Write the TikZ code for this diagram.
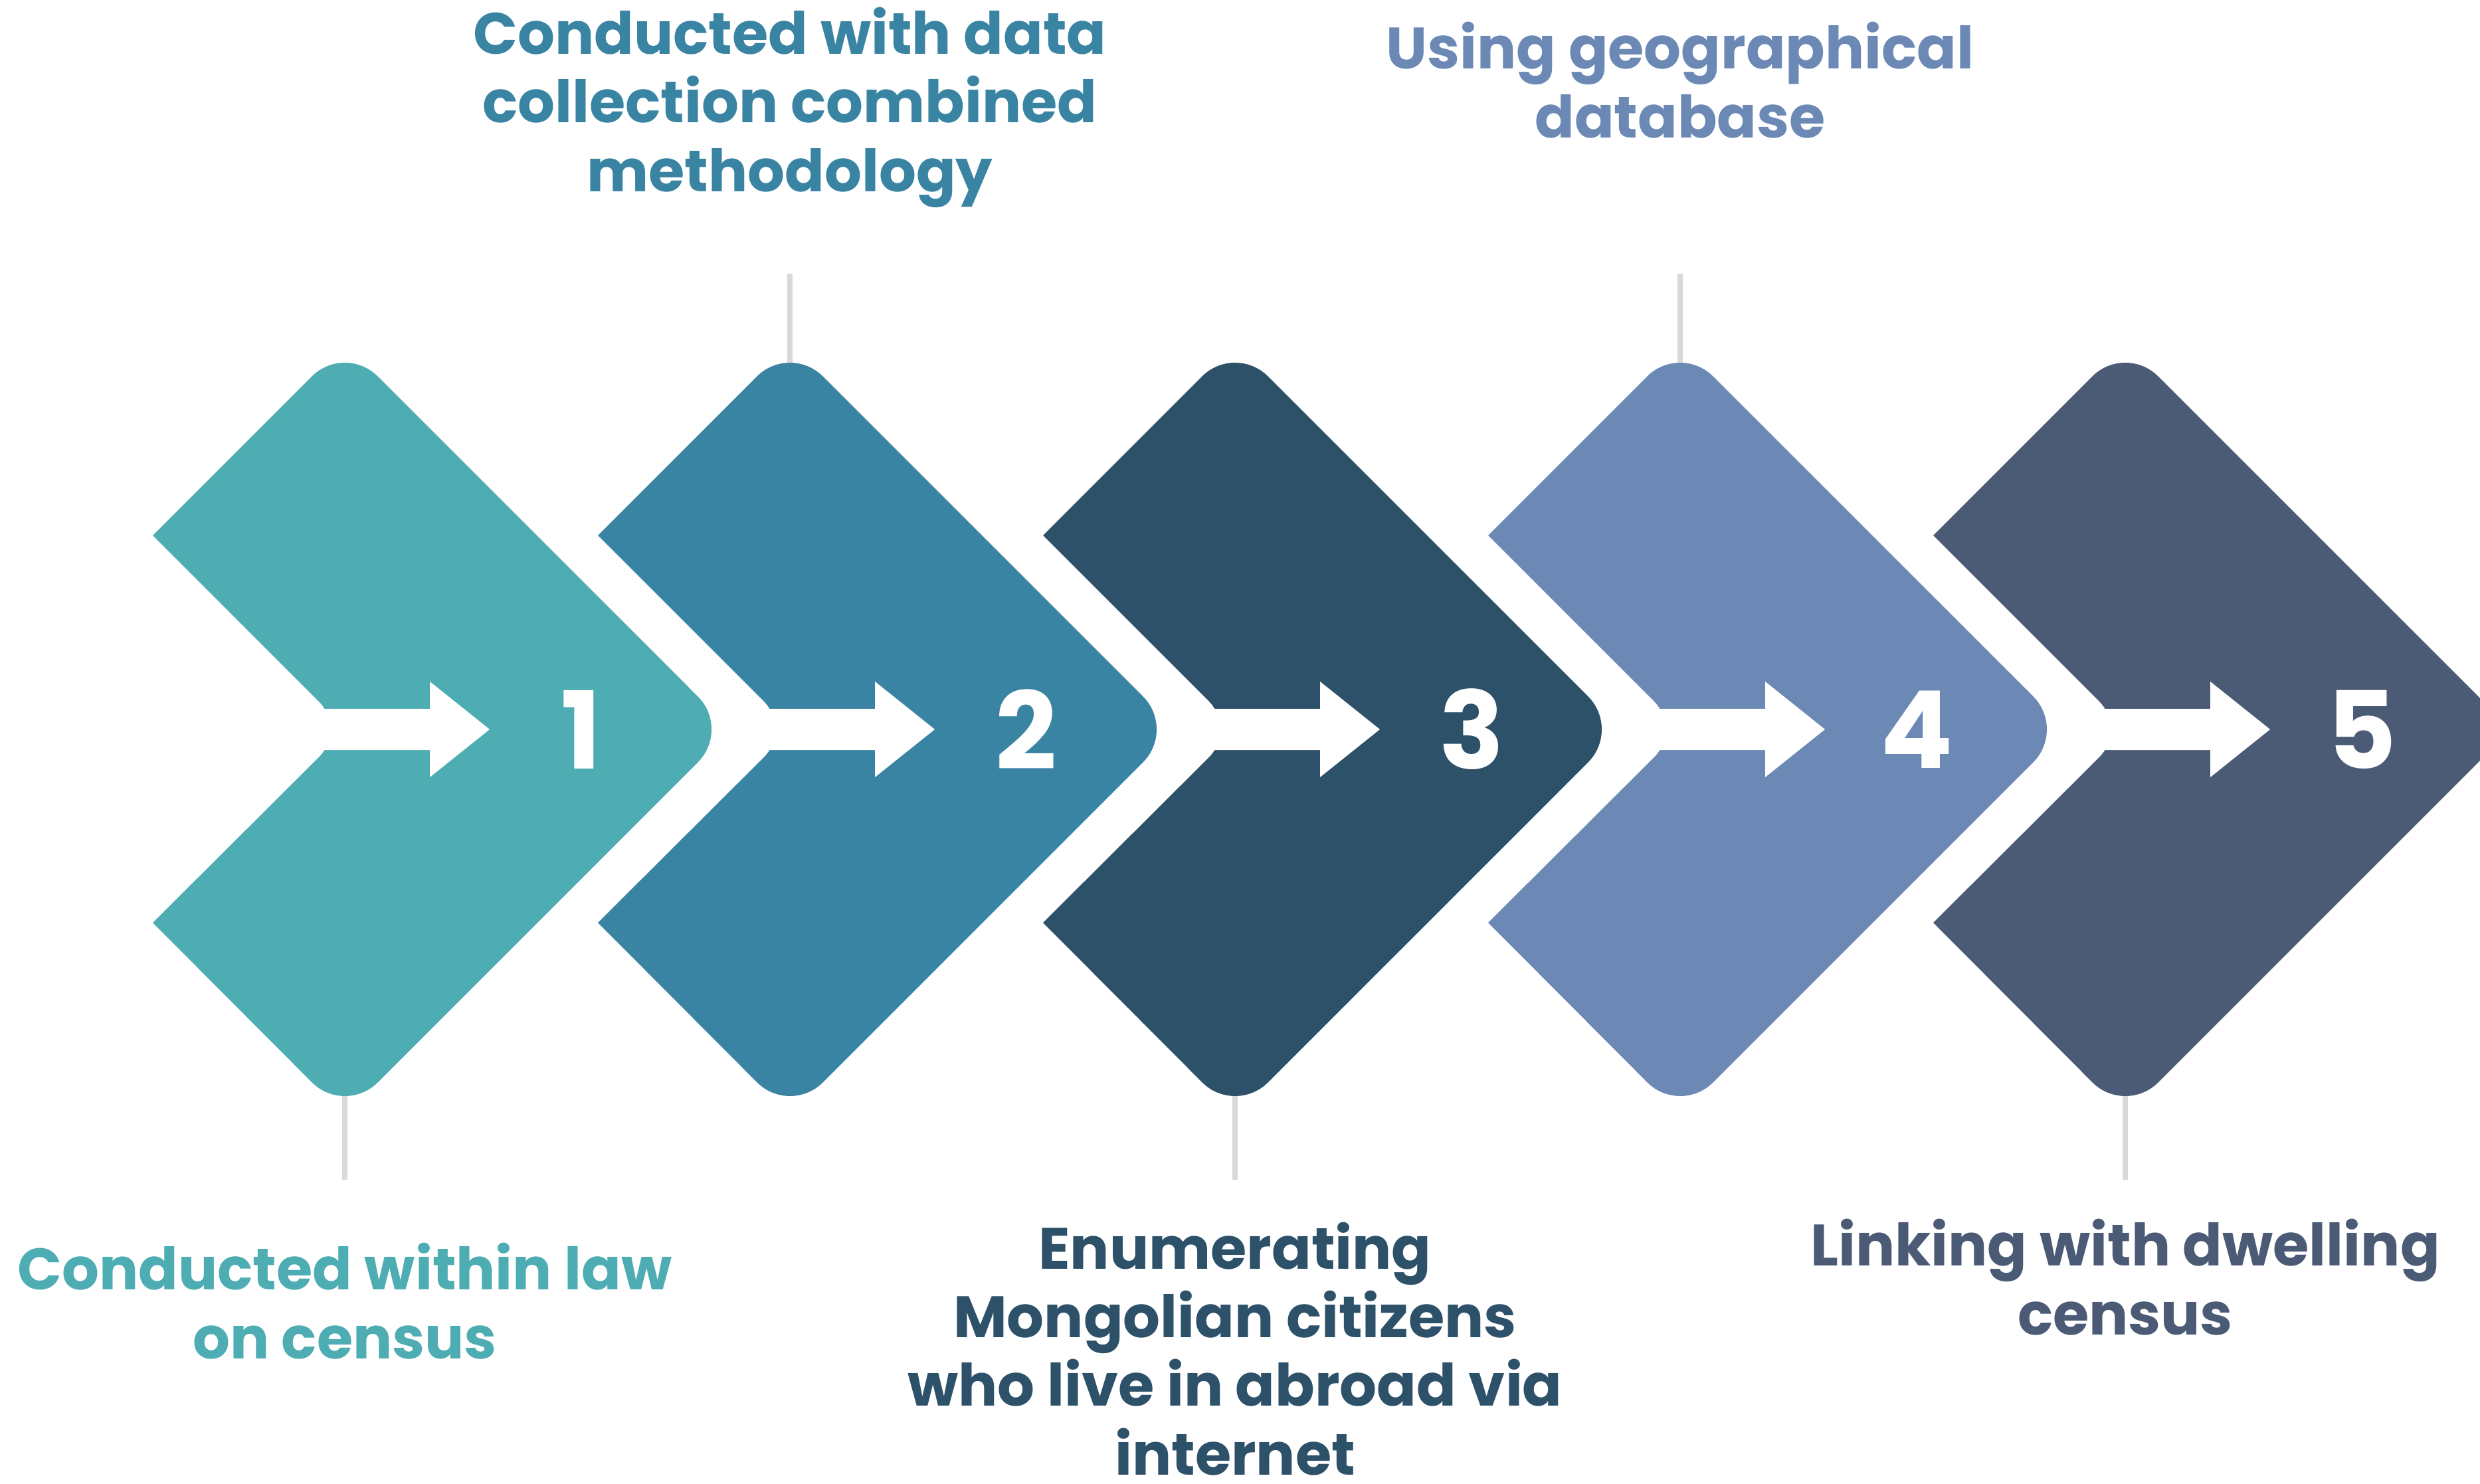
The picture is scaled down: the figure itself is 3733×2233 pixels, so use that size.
\documentclass[tikz,border=0pt]{standalone}
\usepackage{fontspec}
\setmainfont{Poppins}
\definecolor{chA}{HTML}{4EACB3}
\definecolor{chB}{HTML}{3A84A3}
\definecolor{chC}{HTML}{2D5169}
\definecolor{chD}{HTML}{6C89B6}
\definecolor{chE}{HTML}{4B5A75}
\definecolor{tickGray}{HTML}{D9D9D9}
\tikzset{
  num/.style={text=white, inner sep=0, font=\fontsize{46}{46}\selectfont\bfseries},
  lbl/.style={anchor=base, align=center, inner sep=0, font=\fontsize{25}{29.3}\selectfont\bfseries},
  tick/.style={draw=tickGray, line width=0.08cm}
}
\begin{document}
\begin{tikzpicture}[x=0.01cm, y=-0.01cm]
\path[use as bounding box, clip] (0,0) rectangle (3733,2233);
\foreach \i/\col/\ly in {1/chA/1776, 2/chB/412, 3/chC/1776, 4/chD/412, 5/chE/1776} {
 \begin{scope}[shift={({(\i-1)*670},0)}]
  \coordinate (apex\i) at (519,1098);
  \coordinate (end\i) at (519,\ly);
  \draw[tick] (apex\i) -- (end\i);
  \fill[\col] (230,806) [rounded corners=0.7cm] -- (519,517) -- (1100,1098) -- (519,1679)
    [sharp corners] -- (230,1389) [rounded corners=0.6cm] -- (522,1098) [sharp corners] -- cycle;
  \fill[white] (450,1067) -- (647,1067) -- (647,1026) -- (737,1098) -- (647,1170) -- (647,1129) -- (450,1129) -- cycle;
  \node[num] (num\i) at (875,1098) {\i};
 \end{scope}
}
\node[lbl, text=chA] (lab1) at (519,2045) {Conducted within law\\on census};
\node[lbl, text=chB] (lab2) at (1189,288) {Conducted with data\\collection combined\\methodology};
\node[lbl, text=chC] (lab3) at (1859,2220) {Enumerating\\Mongolian citizens\\who live in abroad via\\internet};
\node[lbl, text=chD] (lab4) at (2529,207) {Using geographical\\database};
\node[lbl, text=chE] (lab5) at (3199,2009) {Linking with dwelling\\census};
\end{tikzpicture}
\end{document}
